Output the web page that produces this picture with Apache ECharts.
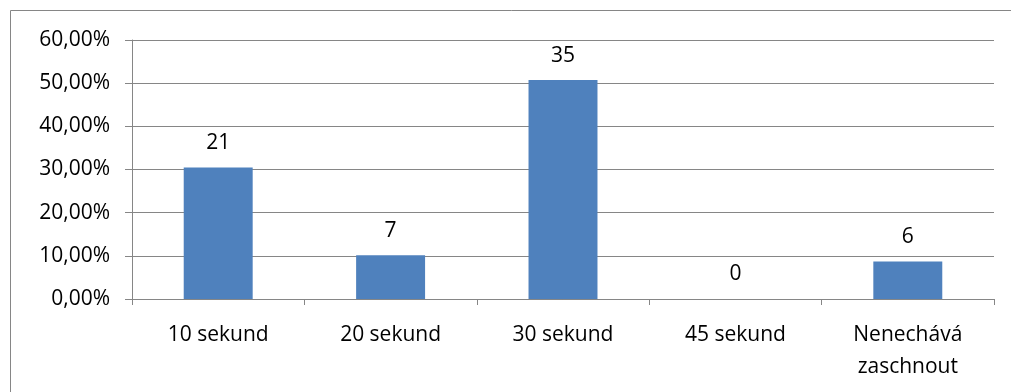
<!DOCTYPE html>
<html>
<head>
<meta charset="utf-8">
<script src="https://cdn.jsdelivr.net/npm/echarts@6/dist/echarts.min.js"></script>
<style>
  html, body { margin: 0; padding: 0; background: #fff; }
  #chart { width: 1011px; height: 392px; }
</style>
</head>
<body>
<div id="chart"></div>
<script>
// Drying time answers: respondent counts per category
const categories = ['10 sekund', '20 sekund', '30 sekund', '45 sekund', 'Nenechává\nzaschnout'];
const counts = [21, 7, 35, 0, 6];
const yTicks = [0, 10, 20, 30, 40, 50, 60];

// Share of all respondents, in percent
const total = counts.reduce((a, b) => a + b, 0);
const shares = counts.map(c => c / total * 100);

const fmtPct = v => v.toFixed(2).replace('.', ',') + '%';
const font = '"Open Sans", "Noto Sans", sans-serif';
const fs = 21;

const chart = echarts.init(document.getElementById('chart'), null, { renderer: 'canvas' });
chart.setOption({
  animation: false,
  textStyle: { fontFamily: font },
  graphic: [{
    type: 'rect',
    shape: { x: 10.5, y: 10.5, width: 1010, height: 400 },
    style: { fill: 'none', stroke: '#868686', lineWidth: 1 },
    silent: true
  }],
  grid: { left: 132, right: 17, top: 40, bottom: 93, containLabel: false },
  xAxis: {
    type: 'category',
    data: categories,
    axisLine: { lineStyle: { color: '#868686', width: 1 } },
    axisTick: { show: true, length: 6, inside: false, lineStyle: { color: '#868686' } },
    axisLabel: { color: '#000', fontSize: fs, margin: 20, lineHeight: 32, fontFamily: font }
  },
  yAxis: {
    type: 'value',
    min: yTicks[0],
    max: yTicks[yTicks.length - 1],
    interval: 10,
    axisLine: { show: true, lineStyle: { color: '#868686', width: 1 } },
    axisTick: { show: true, length: 7, lineStyle: { color: '#868686' } },
    splitLine: { show: true, lineStyle: { color: '#868686', width: 1 } },
    axisLabel: { color: '#000', fontSize: fs, margin: 22, formatter: fmtPct, fontFamily: font }
  },
  series: [{
    type: 'bar',
    data: shares,
    barWidth: '40%',
    itemStyle: { color: '#4F81BD' },
    label: {
      show: true,
      position: 'top',
      distance: 14,
      color: '#000',
      fontSize: fs,
      fontFamily: font,
      formatter: p => String(counts[p.dataIndex])
    }
  }]
});
</script>
</body>
</html>
